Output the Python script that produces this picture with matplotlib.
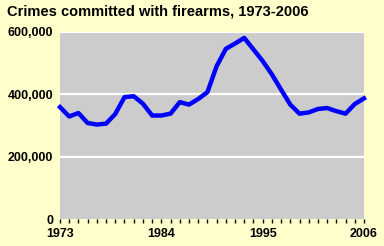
import matplotlib
matplotlib.use("Agg")
import matplotlib.pyplot as plt
from matplotlib.ticker import FuncFormatter

# crimes committed with firearms per year
years = list(range(1973, 2007))
crimes = [359000, 329000, 340000, 308000, 303000, 306000, 337000, 391000,
          394000, 370000, 332000, 332000, 338000, 375000, 367000, 385000,
          407000, 490000, 546000, 563000, 581000, 544000, 507000, 464000,
          415000, 367000, 338000, 342000, 353000, 356000, 346000, 338000,
          369000, 387000]
year_labels = [1973, 1984, 1995, 2006]
y_ticks = [0, 200000, 400000, 600000]

plt.rcParams['font.family'] = ['Liberation Sans', 'DejaVu Sans']

fig = plt.figure(figsize=(3.84, 2.46), dpi=100, facecolor="#FFFFCC")
ax = fig.add_axes([60 / 384, 27 / 246, 304 / 384, 187 / 246])
ax.set_facecolor("#CCCCCC")

for yt in y_ticks[1:]:
    ax.axhline(yt, color="white", lw=1.6, zorder=1)

ax.plot(years, crimes, color="#0000FF", lw=3.2, solid_joinstyle="round", zorder=3, clip_on=False)

ax.set_xlim(1973, 2006)
ax.set_ylim(0, 600000)
for s in ax.spines.values():
    s.set_visible(False)

ax.set_xticks(years)
ax.set_xticklabels([str(y) if y in year_labels else "" for y in years],
                   fontsize=9, fontweight="bold")
ax.tick_params(axis="x", length=3, width=1, color="black", pad=3.5)

ax.set_yticks(y_ticks)
ax.yaxis.set_major_formatter(FuncFormatter(lambda v, p: f"{int(v):,}"))
ax.tick_params(axis="y", length=0, pad=5, labelsize=9)
for lbl in ax.get_yticklabels():
    lbl.set_fontweight("bold")

fig.text(7 / 384, 1 - 15 / 246, "Crimes committed with firearms, 1973-2006",
         fontsize=10.5, fontweight="bold", ha="left", va="baseline")

fig.savefig("out.png", dpi=100, facecolor=fig.get_facecolor())
